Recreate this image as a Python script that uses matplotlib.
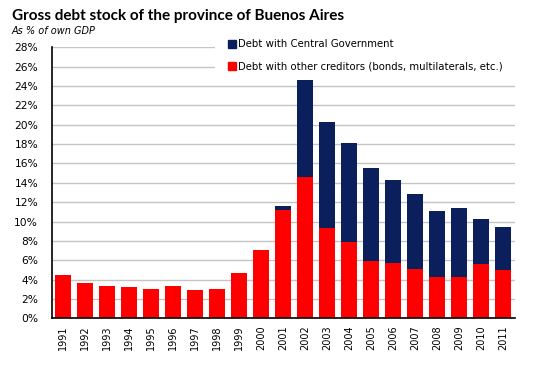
import matplotlib
matplotlib.use("Agg")
import matplotlib.pyplot as plt
from matplotlib.patches import Patch
from matplotlib.ticker import FuncFormatter, MultipleLocator

# ── DATA (% of own GDP) ───────────────────────────────────────────────────────
years = [str(y) for y in range(1991, 2012)]
other_creditors = [4.5, 3.6, 3.3, 3.2, 3.0, 3.3, 2.9, 3.0, 4.7, 7.1,
                   11.2, 14.6, 9.3, 7.9, 5.9, 5.7, 5.1, 4.3, 4.3, 5.6, 5.0]
central_gov = [0, 0, 0, 0, 0, 0, 0, 0, 0, 0,
               0.4, 10.0, 11.0, 10.2, 9.6, 8.6, 7.7, 6.8, 7.1, 4.7, 4.4]
labels = ["Debt with Central Government",
          "Debt with other creditors (bonds, multilaterals, etc.)"]

RED = "#ff0000"
NAVY = "#0b1f5c"

fig = plt.figure(figsize=(5.33, 3.65), dpi=100, facecolor="white")
ax = fig.add_axes([52/533, 1 - 318.3/365, (515-52)/533, (318.3-47.3)/365])

x = range(len(years))
ax.bar(x, other_creditors, width=0.7, color=RED, zorder=2)
ax.bar(x, central_gov, width=0.7, bottom=other_creditors, color=NAVY, zorder=2)

ax.set_xlim(-0.5, len(years) - 0.45)
ax.set_ylim(0, 28)
ax.yaxis.set_major_locator(MultipleLocator(2))
ax.yaxis.set_major_formatter(FuncFormatter(lambda v, _: f"{v:.0f}%"))
ax.grid(axis="y", color="#c4c4c4", linewidth=1.0, zorder=0)
ax.set_axisbelow(True)
ax.set_xticks(list(x))
ax.set_xticklabels(years, rotation=90, fontsize=7)
ax.tick_params(axis="y", length=0, labelsize=7.7, pad=10)
ax.tick_params(axis="x", length=0, pad=5)
ax.spines[["top", "right"]].set_visible(False)
ax.spines[["left", "bottom"]].set_linewidth(1.2)

# legend box sits above the gridlines but under the bars (2002 pokes into it)
handles = [Patch(color=NAVY), Patch(color=RED)]
leg = ax.legend(handles, labels, loc="upper left",
                bbox_to_anchor=(215/533, 1 - 26/365), bbox_transform=fig.transFigure,
                fontsize=7.3, frameon=True, facecolor="white", edgecolor="none",
                framealpha=1, fancybox=False, handlelength=0.8, handleheight=0.8,
                handletextpad=0.2, labelspacing=1.2, borderaxespad=0,
                borderpad=1.3)
leg.set_zorder(1)

fig.text(12/533, 1 - 16/365, "Gross debt stock of the province of Buenos Aires",
         ha="left", va="center", fontsize=11, fontweight="bold",
         family=["Lato", "DejaVu Sans"])
fig.text(12/533, 1 - 31.5/365, "As % of own GDP", ha="left", va="center",
         fontsize=7, style="italic")

fig.savefig("out.png", dpi=100, facecolor="white")
